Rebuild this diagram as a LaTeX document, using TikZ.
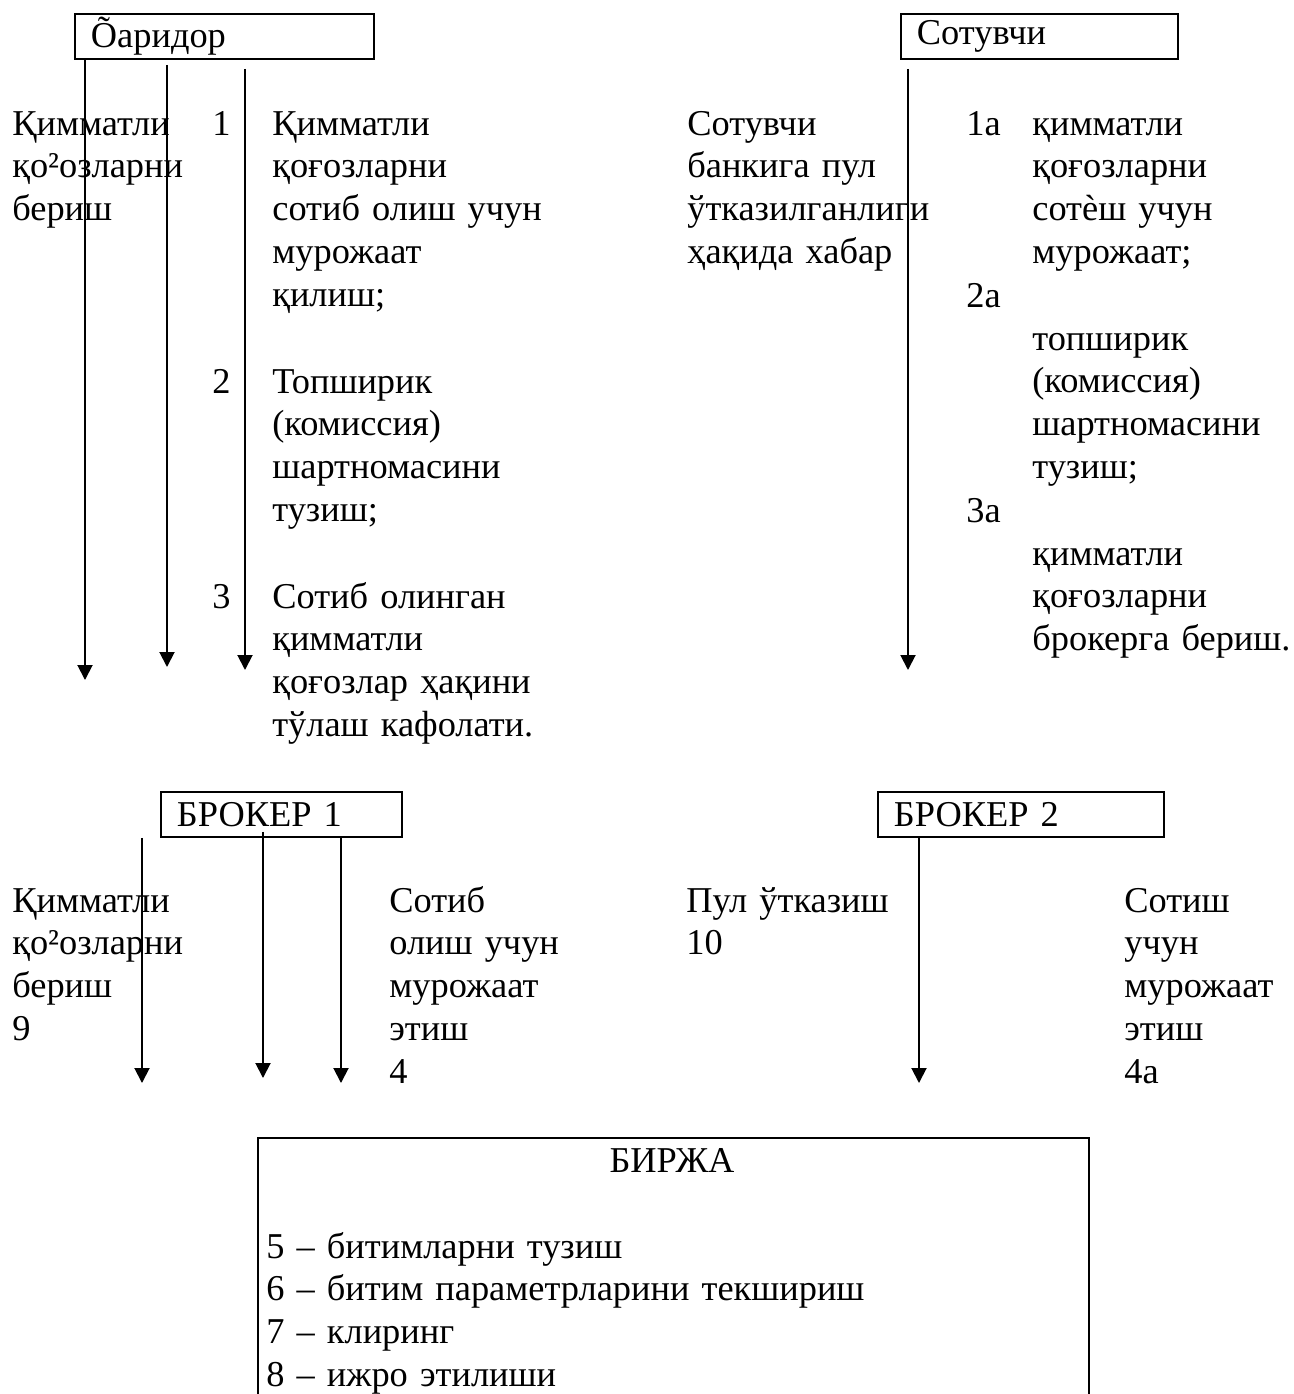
\documentclass[tikz,border=0pt]{standalone}
\usepackage{fontspec}
\setmainfont{Liberation Serif}
\usetikzlibrary{calc}
\usetikzlibrary{positioning}
\usetikzlibrary{arrows.meta}

\newcommand{\txtsize}{\fontsize{20.7}{24.4}\selectfont}

\begin{document}
\begin{tikzpicture}[
    x=0.2mm, y=-0.2mm,
    actor/.style={
        rectangle,
        draw,
        line width=1.1pt,
        anchor=north west,
        inner xsep=3.2mm,
        inner ysep=0pt,
        minimum height=9mm,
        align=left,
        font=\txtsize,
        },
    mytext/.style={
        font=\txtsize,
        text width=125mm,
        align=left,
        inner sep=0pt,
        anchor=base west,
        },
    mynum/.style={
        font=\txtsize,
        inner sep=0pt,
        anchor=base east,
        },
    mytitle/.style={
        font=\txtsize,
        inner sep=0pt,
        anchor=base,
        },
    ArrowD/.style={
        line width=1.1pt,
        -{Triangle[length=3mm,width=3mm]},
        },
    ]

    \useasboundingbox (0,0) rectangle (1294,1394);
    \clip (0,0) rectangle (1294,1394);

    \node [actor, text width=53.4mm] (haridor) at (74,13) {Õаридор};
    \node [actor, text width=49mm] (sotuvchi) at (900,13) {Сотувчи};

    \node [mytext] (give1) at (12,135) {Қимматли\\қо²озларни\\бериш};
    \node [mynum] (n1) at (231,135) {1};
    \node [mynum] (n2) at (231,393) {2};
    \node [mynum] (n3) at (231,608) {3};
    \node [mytext] (buyreq) at (272,135) {Қимматли\\қоғозларни\\сотиб олиш учун\\мурожаат\\қилиш;};
    \node [mytext] (contract1) at (272,393) {Топширик\\(комиссия)\\шартномасини\\тузиш;};
    \node [mytext] (guarantee) at (272,608) {Сотиб олинган\\қимматли\\қоғозлар ҳақини\\тўлаш кафолати.};

    \node [mytext] (notice) at (687,135) {Сотувчи\\банкига пул\\ўтказилганлиги\\ҳақида хабар};
    \node [mytext] (n1a) at (966,135) {1а};
    \node [mytext] (n2a) at (966,307) {2а};
    \node [mytext] (n3a) at (966,522) {3а};
    \node [mytext] (sellreq) at (1032,135) {қимматли\\қоғозларни\\сотѐш учун\\мурожаат;};
    \node [mytext] (contract2) at (1032,350) {топширик\\(комиссия)\\шартномасини\\тузиш;};
    \node [mytext] (handover) at (1032,565) {қимматли\\қоғозларни\\брокерга бериш.};

    \node [actor, text width=41.8mm] (broker1) at (160,791) {БРОКЕР 1};
    \node [actor, text width=50.8mm] (broker2) at (877,791) {БРОКЕР 2};

    \node [mytext] (give9) at (12,912) {Қимматли\\қо²озларни\\бериш\\9};
    \node [mytext] (buy4) at (389,912) {Сотиб\\олиш учун\\мурожаат\\этиш\\4};
    \node [mytext] (pay10) at (686,912) {Пул ўтказиш\\10};
    \node [mytext] (sell4a) at (1124,912) {Сотиш\\учун\\мурожаат\\этиш\\4а};

    \node [actor, inner sep=0pt, minimum width=166.2mm, minimum height=60mm] (birja) at (257,1137) {};
    \node [mytitle] (birjaname) at (672,1172) {БИРЖА};
    \node [mytext] (steps) at (266,1258) {5 – битимларни тузиш\\6 – битим параметрларини текшириш\\7 – клиринг\\8 – ижро этилиши};

    \coordinate (t1) at (85,680);
    \coordinate (t2) at (167,667);
    \coordinate (t3) at (245,670);
    \coordinate (t4) at (908,670);
    \coordinate (t5) at (142,1083);
    \coordinate (t6) at (263,1078);
    \coordinate (t7) at (341,1083);
    \coordinate (t8) at (919,1083);

    \draw [ArrowD] (t1 |- haridor.south) -- (t1);
    \draw [ArrowD] ($(t2 |- haridor.south)+(0,5)$) -- (t2);
    \draw [ArrowD] ($(t3 |- haridor.south)+(0,9)$) -- (t3);
    \draw [ArrowD] ($(t4 |- sotuvchi.south)+(0,9)$) -- (t4);

    \draw [ArrowD] (t5 |- broker1.south) -- (t5);
    \draw [ArrowD] ($(t6 |- broker1.south)+(0,-6)$) -- (t6);
    \draw [ArrowD] (t7 |- broker1.south) -- (t7);
    \draw [ArrowD] (t8 |- broker2.south) -- (t8);

\end{tikzpicture}
\end{document}
